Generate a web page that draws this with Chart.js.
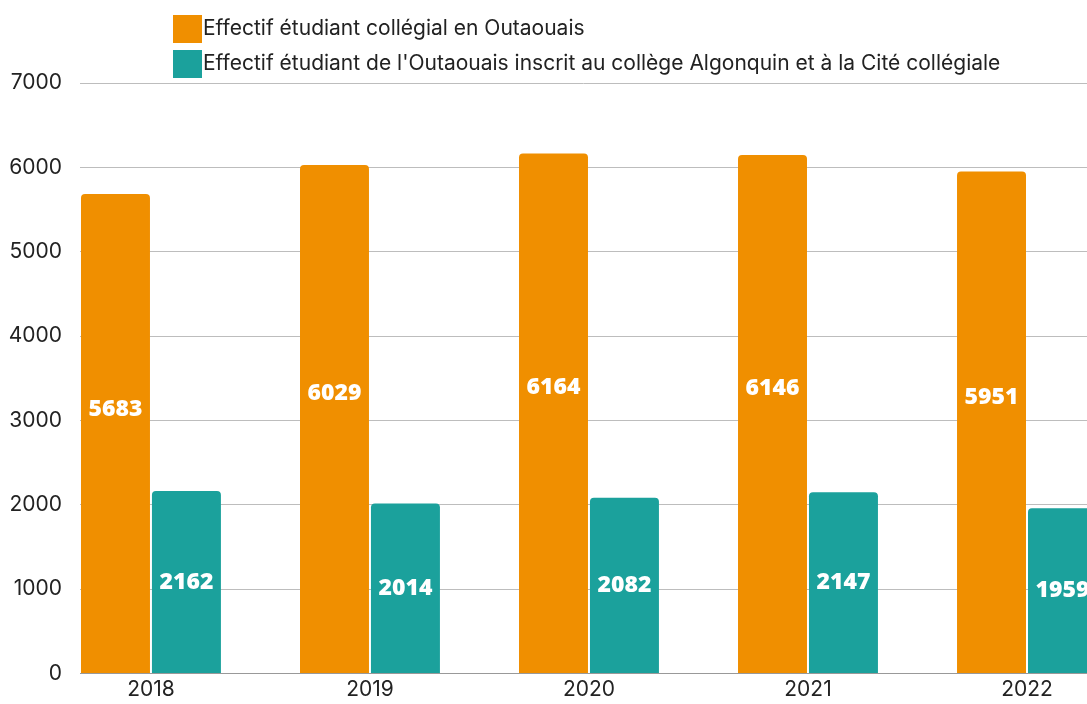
<!DOCTYPE html>
<html>
<head>
<meta charset="utf-8">
<script src="https://cdn.jsdelivr.net/npm/chart.js@4/dist/chart.umd.min.js"></script>
<style>
  html, body { margin: 0; padding: 0; background: #fff; }
  #wrap { width: 1087px; height: 704px; position: relative; }
</style>
</head>
<body>
<div id="wrap"><canvas id="barChart"></canvas></div>
<script>
const years = ["2018", "2019", "2020", "2021", "2022"];
const seriesNames = [
    "Effectif étudiant collégial en Outaouais",
    "Effectif étudiant de l'Outaouais inscrit au collège Algonquin et à la Cité collégiale"
];
const effectifOutaouais = [5683, 6029, 6164, 6146, 5951];
const effectifAlgonquinCite = [2162, 2014, 2082, 2147, 1959];
const yTicks = [0, 1000, 2000, 3000, 4000, 5000, 6000, 7000];

const ORANGE = "#f08f00";
const TEAL = "#1ba19c";
const FONT = "Inter, 'DejaVu Sans', sans-serif";

// white value labels inside the bars
const barValues = {
    id: "barValues",
    afterDatasetsDraw(chart) {
        const ctx = chart.ctx;
        ctx.save();
        ctx.fillStyle = "#fff";
        ctx.font = "800 23px 'Open Sans', " + FONT;
        ctx.textAlign = "center";
        ctx.textBaseline = "middle";
        chart.data.datasets.forEach((ds, i) => {
            const meta = chart.getDatasetMeta(i);
            const ys = chart.scales.y;
            meta.data.forEach((bar, j) => {
                const v = ds.data[j];
                const y = ys.getPixelForValue(v * ds.labelAt);
                ctx.fillText(String(v), bar.x, y);
            });
        });
        ctx.restore();
    }
};

// legend drawn at the top left, one row per series
const topLegend = {
    id: "topLegend",
    afterDraw(chart) {
        const ctx = chart.ctx;
        ctx.save();
        ctx.font = "21px " + FONT;
        ctx.textBaseline = "middle";
        ctx.textAlign = "left";
        chart.data.datasets.forEach((ds, i) => {
            const top = 15 + i * 35;
            ctx.fillStyle = ds.backgroundColor;
            ctx.fillRect(173, top, 29, 28);
            ctx.fillStyle = "#222";
            ctx.fillText(ds.label, 203, top + 14);
        });
        ctx.restore();
    }
};

new Chart(document.getElementById("barChart"), {
    type: "bar",
    data: {
        labels: years,
        datasets: [{
            label: seriesNames[0],
            data: effectifOutaouais,
            backgroundColor: ORANGE,
            borderRadius: 4,
            labelAt: 0.55
        }, {
            label: seriesNames[1],
            data: effectifAlgonquinCite,
            backgroundColor: TEAL,
            borderRadius: 4,
            labelAt: 0.5
        }]
    },
    options: {
        responsive: true,
        maintainAspectRatio: false,
        animation: false,
        categoryPercentage: 0.648,
        barPercentage: 0.972,
        layout: { padding: { top: 83, left: 0, right: 0, bottom: -6 } },
        plugins: {
            legend: { display: false },
            tooltip: { enabled: false }
        },
        scales: {
            x: {
                type: "linear",
                offset: false,
                min: 2017.676,
                max: 2022.274,
                grid: { display: false, drawTicks: false },
                border: { display: true, color: "#999", width: 1 },
                ticks: {
                    stepSize: 1,
                    includeBounds: false,
                    padding: 4,
                    color: "#222",
                    font: { family: FONT, size: 21 },
                    callback: v => years.includes(String(v)) ? String(v) : ""
                }
            },
            y: {
                min: yTicks[0],
                max: yTicks[yTicks.length - 1],
                grid: { color: "#bdbdbd", drawTicks: false },
                border: { display: false },
                afterBuildTicks: axis => { axis.ticks = yTicks.map(v => ({ value: v })); },
                afterFit: axis => { axis.width = 80; },
                ticks: {
                    padding: 18,
                    color: "#222",
                    font: { family: FONT, size: 21 },
                    callback: v => String(v)
                }
            }
        }
    },
    plugins: [barValues, topLegend]
});
</script>
</body>
</html>
